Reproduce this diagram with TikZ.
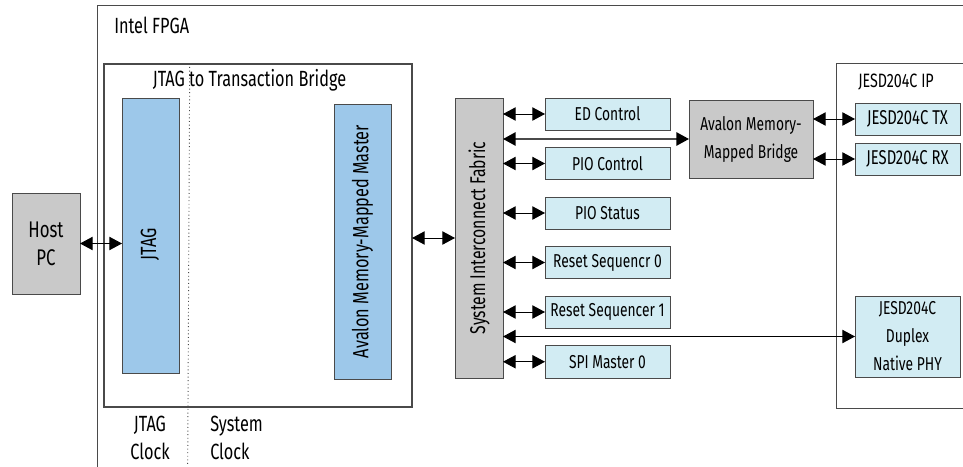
\documentclass[tikz,border=0pt]{standalone}
\usepackage{fontspec}
\setmainfont[FakeStretch=0.74]{Fira Sans}
\usetikzlibrary{arrows.meta}
\definecolor{bluefill}{HTML}{9DC8EA}
\definecolor{lightfill}{HTML}{D2ECF3}
\definecolor{greyfill}{HTML}{C9C9C9}
\definecolor{edge}{HTML}{4A4A4A}
\newcommand\bx[7]{\pgfmathsetmacro\cx{(#3+#5)/2}\pgfmathsetmacro\cy{(#4+#6)/2}%
  \node[#2,minimum width={(#5-#3)*0.75pt},minimum height={(#6-#4)*0.75pt}] (#1) at (\cx,\cy) {#7};}
\newcommand\bxr[7]{\pgfmathsetmacro\cx{(#3+#5)/2}\pgfmathsetmacro\cy{(#4+#6)/2}%
  \node[#2,rotate=90,minimum width={(#6-#4)*0.75pt},minimum height={(#5-#3)*0.75pt}] (#1) at (\cx,\cy) {#7};}
\newcommand\fs[1]{\fontsize{#1}{21}\selectfont}
\tikzset{
  base/.style={draw=edge,line width=0.75pt,inner sep=0pt,outer sep=0pt,align=center,text=black,font=\fs{14}},
  bluebox/.style={base,fill=bluefill},
  lightbox/.style={base,fill=lightfill},
  greybox/.style={base,fill=greyfill},
  frame/.style={draw=edge,line width=0.75pt},
  label/.style={inner sep=0pt,align=center,font=\fs{16.5}},
  tip/.style={},
  bi/.style={draw=black,line width=0.75pt,{Triangle[length=9.5pt,width=10pt,color=black,fill=black]}-{Triangle[length=9.5pt,width=10pt,color=black,fill=black]}},
}
\begin{document}
\begin{tikzpicture}[x=0.75pt,y=-0.75pt]
\useasboundingbox (0,0) rectangle (963,467);
\coordinate (fa) at (97,467);
\coordinate (fb) at (97,6);
\coordinate (fc) at (963,6);
\draw[frame] (fa) -- (fb) -- (fc);
\node[label,anchor=west] (fpgalabel) at (114,25) {Intel FPGA};
\coordinate (ia) at (963,64);
\coordinate (ib) at (836,64);
\coordinate (ic) at (836,408);
\coordinate (id) at (963,408);
\draw[frame] (ia) -- (ib) -- (ic) -- (id);
\node[label,anchor=west,font=\fs{14.5}] (iplabel) at (858,82) {JESD204C IP};
\bx{bridge}{draw=edge,line width=1.2pt,inner sep=0pt,outer sep=0pt}{104}{64}{412}{407}{}
\node[label] (bridgelabel) at (249.5,80) {JTAG to Transaction Bridge};
\coordinate (da) at (189.7,67);
\coordinate (db) at (187.7,464);
\draw[edge,line width=0.7pt,dotted] (da) -- (db);
\bx{jtag}{bluebox}{122}{98}{179}{373}{}
\node[label,rotate=90] (jtaglabel) at (150,244) {JTAG};
\bxr{master}{bluebox,font=\fs{16.5}}{334}{104}{391}{379}{Avalon Memory-Mapped Master}
\bx{host}{greybox,font=\fs{17}}{12}{193}{80}{294}{Host\\PC}
\bxr{fabric}{greybox,font=\fs{16}}{455}{98}{503}{378}{System Interconnect Fabric}
\bx{ed}{lightbox}{545}{98}{670}{130}{ED Control}
\bx{pioc}{lightbox}{545}{147.5}{670}{179.5}{PIO Control}
\bx{pios}{lightbox}{545}{197}{670}{229}{PIO Status}
\bx{rsa}{lightbox}{545}{246.5}{670}{278.5}{Reset Sequencr 0}
\bx{rsb}{lightbox}{545}{296}{670}{328}{Reset Sequencer 1}
\bx{spi}{lightbox}{545}{345.5}{670}{378}{SPI Master 0}
\bx{abridge}{greybox}{689}{100}{813}{178}{Avalon Memory-\\Mapped Bridge}
\bx{tx}{lightbox,font=\fs{15}}{855}{103}{960}{135}{JESD204C TX}
\bx{rx}{lightbox,font=\fs{15}}{855}{143}{960}{175}{JESD204C RX}
\bx{phy}{lightbox}{855}{296}{960}{377}{JESD204C\\Duplex\\Native PHY}
\node[label] (clka) at (150,438) {JTAG\\Clock};
\node[label,anchor=west,align=left] (clkb) at (210,438) {System\\Clock};
\draw[bi] (host.east) -- (host.east -| jtag.west);
\draw[bi] (fabric.north -| bridge.east) -- (fabric.north);
\draw[bi] (ed.west -| fabric.south) -- (ed.west);
\draw[bi,line width=1.3pt,draw=edge] (abridge.west -| fabric.south) -- (abridge.west);
\draw[bi] (pioc.west -| fabric.south) -- (pioc.west);
\draw[bi] (pios.west -| fabric.south) -- (pios.west);
\draw[bi] (rsa.west -| fabric.south) -- (rsa.west);
\draw[bi] (rsb.west -| fabric.south) -- (rsb.west);
\draw[bi] (phy.west -| fabric.south) -- (phy.west);
\draw[bi] (spi.west -| fabric.south) -- (spi.west);
\draw[bi] (tx.west -| abridge.east) -- (tx.west);
\draw[bi] (rx.west -| abridge.east) -- (rx.west);
\end{tikzpicture}
\end{document}
